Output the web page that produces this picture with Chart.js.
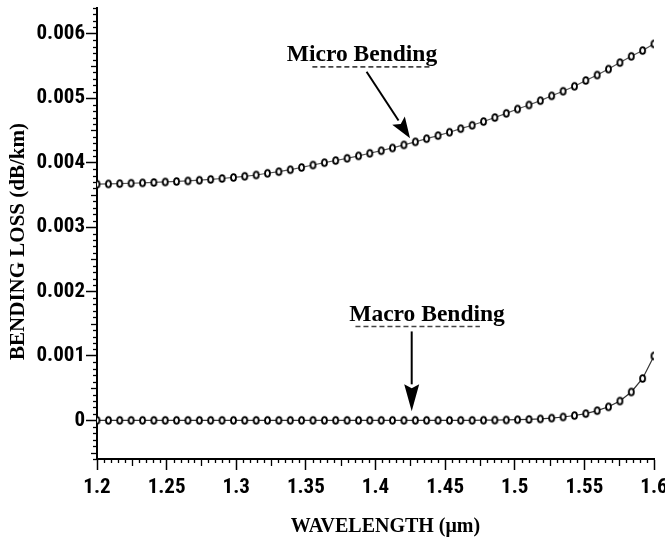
<!DOCTYPE html>
<html>
<head>
<meta charset="utf-8">
<script src="https://cdn.jsdelivr.net/npm/chart.js@4.4.1/dist/chart.umd.min.js"></script>
<style>
html,body{margin:0;padding:0;background:#fff;}
#wrap{width:665px;height:539px;position:relative;}
</style>
</head>
<body>
<div id="wrap"><canvas id="c" width="665" height="539"></canvas></div>
<script>
// ---------------- data ----------------
const wavelengths = [
  1.2000,1.2082,1.2163,1.2245,1.2327,1.2408,1.2490,1.2571,1.2653,1.2735,
  1.2816,1.2898,1.2980,1.3061,1.3143,1.3224,1.3306,1.3388,1.3469,1.3551,
  1.3633,1.3714,1.3796,1.3878,1.3959,1.4041,1.4122,1.4204,1.4286,1.4367,
  1.4449,1.4531,1.4612,1.4694,1.4776,1.4857,1.4939,1.5020,1.5102,1.5184,
  1.5265,1.5347,1.5429,1.5510,1.5592,1.5673,1.5755,1.5837,1.5918,1.6000
];
const microBending = [
  0.003665,0.003670,0.003675,0.003680,0.003686,0.003692,0.003700,0.003708,0.003716,0.003727,
  0.003740,0.003754,0.003770,0.003788,0.003808,0.003835,0.003860,0.003890,0.003925,0.003963,
  0.004000,0.004033,0.004067,0.004105,0.004145,0.004185,0.004228,0.004275,0.004323,0.004372,
  0.004420,0.004472,0.004527,0.004580,0.004638,0.004700,0.004765,0.004832,0.004895,0.004962,
  0.005037,0.005108,0.005185,0.005275,0.005360,0.005452,0.005553,0.005650,0.005740,0.005843
];
const macroBending = [
  0,0,0,0,0,0,0,0,0,0,
  0,0,0,0,0,0,0,0,0,0,
  0,0,0,0,0,0,0,0,0,0,
  0,0,0,0,0.000002,0.000004,0.000006,0.000010,0.000015,0.000022,
  0.000035,0.000052,0.000075,0.000105,0.000150,0.000210,0.000300,0.000440,0.000650,0.001000
];
const seriesNames = ['Micro Bending', 'Macro Bending'];
const xTickValues = [1.2,1.25,1.3,1.35,1.4,1.45,1.5,1.55,1.6];
const xTickLabels = ['1.2','1.25','1.3','1.35','1.4','1.45','1.5','1.55','1.6'];
const yTickValues = [0,0.001,0.002,0.003,0.004,0.005,0.006];
const yTickLabels = ['0','0.001','0.002','0.003','0.004','0.005','0.006'];
const xTitle = 'WAVELENGTH (\u03bcm)';
const yTitle = 'BENDING LOSS (dB/km)';
const xRange = [1.2, 1.6];
const yRange = [-0.0006, 0.0064];

// ---------------- styling ----------------
const tickFont = {family: "'Liberation Sans Narrow','Arial Narrow','Roboto Condensed','DejaVu Sans Condensed',sans-serif", weight: 'bold', size: 21};
const serifFamily = "'Liberation Serif','Times New Roman',serif";

function makeMarker() {
  const c = document.createElement('canvas');
  c.width = 9; c.height = 11;
  const g = c.getContext('2d');
  g.beginPath();
  g.ellipse(4.5, 5.5, 2.5, 3.4, 0, 0, Math.PI * 2);
  g.fillStyle = '#fff';
  g.fill();
  g.lineWidth = 1.8;
  g.strokeStyle = '#000';
  g.stroke();
  return c;
}
const marker = makeMarker();

// annotation labels + arrows, positioned in data coordinates
const annotations = [
  {text: seriesNames[0], at: [1.3903, 0.00558], from: [1.3936, 0.00541], to: [1.4248, 0.00438], head: 21, ghost: [-0.33, 0.46, 6]},
  {text: seriesNames[1], at: [1.437, 0.001535], from: [1.426, 0.00138], to: [1.426, 0.00014], head: 27, ghost: [-0.46, 0.34, 5]}
];

function drawArrow(ctx, x1, y1, x2, y2, len) {
  const ang = Math.atan2(y2 - y1, x2 - x1);
  const half = 7.5;
  const bx = x2 - len * Math.cos(ang), by = y2 - len * Math.sin(ang);
  ctx.beginPath();
  ctx.moveTo(x1, y1);
  ctx.lineTo(bx, by);
  ctx.lineWidth = 2;
  ctx.strokeStyle = '#000';
  ctx.stroke();
  const px = -Math.sin(ang), py = Math.cos(ang);
  const nx = x2 - (len - 4) * Math.cos(ang), ny = y2 - (len - 4) * Math.sin(ang);
  ctx.beginPath();
  ctx.moveTo(x2, y2);
  ctx.lineTo(bx + px * half, by + py * half);
  ctx.lineTo(nx, ny);
  ctx.lineTo(bx - px * half, by - py * half);
  ctx.closePath();
  ctx.fillStyle = '#000';
  ctx.fill();
}

const decorPlugin = {
  id: 'decor',
  afterDraw(chart) {
    const ctx = chart.ctx;
    const xs = chart.scales.x, ys = chart.scales.y;
    const area = chart.chartArea;
    ctx.save();
    // minor ticks on x axis
    ctx.strokeStyle = '#000';
    ctx.lineWidth = 1.3;
    for (let k = 0; k <= 80; k++) {
      if (k % 10 === 0) continue;
      const v = xRange[0] + k * 0.005;
      const px = Math.round(xs.getPixelForValue(v)) + 0.5;
      const l = (k % 5 === 0) ? 7 : 4;
      ctx.beginPath();
      ctx.moveTo(px, area.bottom);
      ctx.lineTo(px, area.bottom + l);
      ctx.stroke();
    }
    // minor ticks on y axis
    for (let k = -6; k <= 64; k++) {
      if (k % 10 === 0) continue;
      const v = k * 0.0001;
      const py = Math.round(ys.getPixelForValue(v)) + 0.5;
      const l = (Math.abs(k) % 5 === 0) ? 6 : 4;
      ctx.beginPath();
      ctx.moveTo(area.left, py);
      ctx.lineTo(area.left - l, py);
      ctx.stroke();
    }
    // axis titles
    ctx.fillStyle = '#000';
    ctx.textAlign = 'center';
    ctx.textBaseline = 'alphabetic';
    ctx.font = 'bold 20px ' + serifFamily;
    ctx.fillText(xTitle, area.left + (area.right - area.left) * 0.518, 532);
    ctx.save();
    ctx.translate(24, (area.top + area.bottom) / 2 + 8);
    ctx.rotate(-Math.PI / 2);
    ctx.font = 'bold 21px ' + serifFamily;
    ctx.fillText(yTitle, 0, 0);
    ctx.restore();
    // annotations
    ctx.font = 'bold 23.5px ' + serifFamily;
    annotations.forEach(a => {
      const cx = xs.getPixelForValue(a.at[0]), cy = ys.getPixelForValue(a.at[1]);
      const w = ctx.measureText(a.text).width;
      // faint ghost underline seen beneath the labels
      ctx.save();
      ctx.setLineDash([5, 3]);
      ctx.lineWidth = 1.6;
      ctx.strokeStyle = '#444';
      ctx.beginPath();
      ctx.moveTo(cx + a.ghost[0] * w, cy + a.ghost[2]);
      ctx.lineTo(cx + a.ghost[1] * w, cy + a.ghost[2]);
      ctx.stroke();
      ctx.restore();
      ctx.fillText(a.text, cx, cy);
      drawArrow(ctx,
        xs.getPixelForValue(a.from[0]), ys.getPixelForValue(a.from[1]),
        xs.getPixelForValue(a.to[0]), ys.getPixelForValue(a.to[1]), a.head);
    });
    ctx.restore();
  }
};

new Chart(document.getElementById('c'), {
  type: 'line',
  data: {
    datasets: [
      {
        label: seriesNames[0],
        data: wavelengths.map((x, i) => ({x: x, y: microBending[i]})),
        borderColor: '#555',
        borderWidth: 1.2,
        pointStyle: marker,
        pointRadius: 4,
        tension: 0,
        clip: 0
      },
      {
        label: seriesNames[1],
        data: wavelengths.map((x, i) => ({x: x, y: macroBending[i]})),
        borderColor: '#333',
        borderWidth: 1.2,
        pointStyle: marker,
        pointRadius: 4,
        tension: 0,
        clip: 0
      }
    ]
  },
  options: {
    responsive: false,
    devicePixelRatio: 1,
    animation: false,
    events: [],
    layout: {padding: {top: 8, right: 11, left: 0, bottom: 0}},
    plugins: {legend: {display: false}, tooltip: {enabled: false}},
    scales: {
      x: {
        type: 'linear',
        min: xRange[0], max: xRange[1],
        afterBuildTicks: s => { s.ticks = xTickValues.map(v => ({value: v})); },
        afterFit: s => { s.height = 80; s.paddingLeft = 0; s.paddingRight = 0; },
        ticks: {
          callback: (v, i) => xTickLabels[i],
          font: tickFont, color: '#000', padding: 5, maxRotation: 0, autoSkip: false
        },
        grid: {drawOnChartArea: false, drawTicks: true, tickLength: 11, tickWidth: 1.5, tickColor: '#000'},
        border: {display: true, color: '#000', width: 2},
        title: {display: false}
      },
      y: {
        type: 'linear',
        min: yRange[0], max: yRange[1],
        afterBuildTicks: s => { s.ticks = yTickValues.map(v => ({value: v})); },
        afterFit: s => { s.width = 97; s.paddingTop = 0; s.paddingBottom = 0; },
        ticks: {
          callback: (v, i) => yTickLabels[i],
          font: tickFont, color: '#000', padding: 1, autoSkip: false
        },
        grid: {drawOnChartArea: false, drawTicks: true, tickLength: 11, tickWidth: 1.5, tickColor: '#000'},
        border: {display: true, color: '#000', width: 2},
        title: {display: false}
      }
    }
  },
  plugins: [decorPlugin]
});
</script>
</body>
</html>
